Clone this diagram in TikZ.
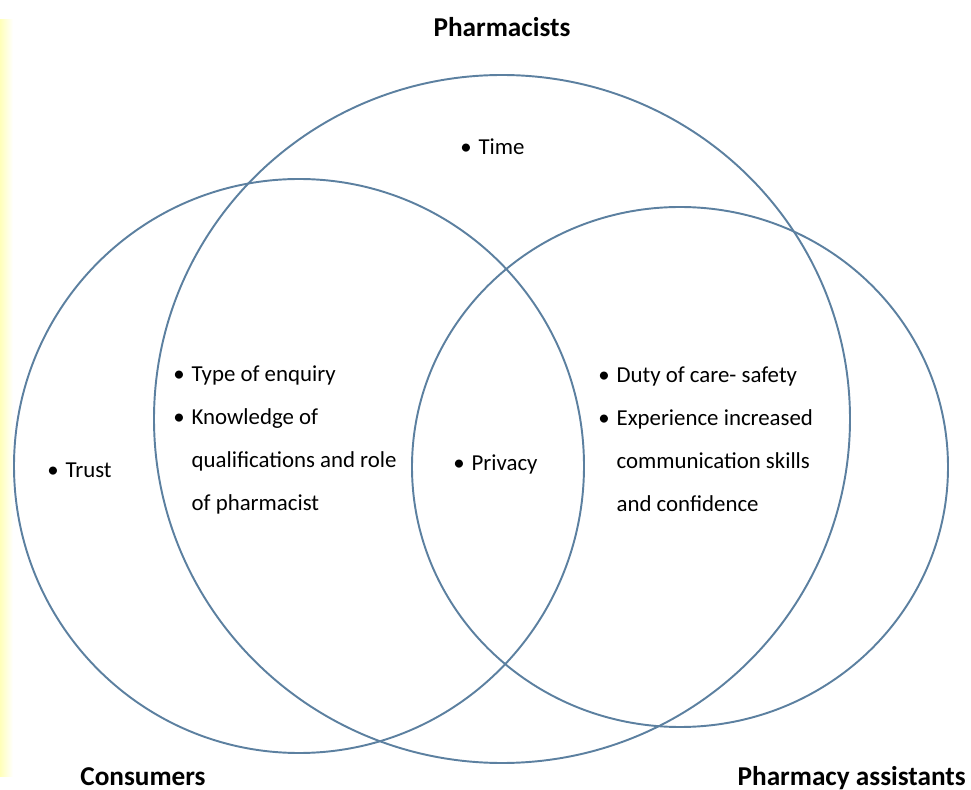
\documentclass[tikz,border=0pt]{standalone}
\usepackage{fontspec}
\setmainfont{Carlito}
\usepackage{xcolor}
\definecolor{color1}{RGB}{92, 128, 160}
\definecolor{color2}{RGB}{255, 255, 185}
\usepackage{tikz}
\newcommand{\bul}{\makebox[0.8em][l]{\textbullet}}
\newcommand{\ind}{\hspace*{0.8em}}

\begin{document}
\begin{tikzpicture}[x=0.02cm, y=-0.02cm,
	lst/.style={font=\fontsize{13}{24.4}\selectfont, align=left, anchor=west, inner sep=0pt},
	ttl/.style={font=\fontsize{15.5}{18}\selectfont\bfseries, inner sep=0pt}]
	\useasboundingbox (0,0) rectangle (971,790);
	\shade[left color=color2, right color=white] (0,20) rectangle (13,776);
	% the three sets
	\draw[line width=1.1pt, color1] (502,419) ellipse [x radius=348, y radius=344];
	\draw[line width=1.1pt, color1] (299,466) ellipse [x radius=285, y radius=287];
	\draw[line width=1.1pt, color1] (680,467) ellipse [x radius=268, y radius=260];
	\node[ttl, anchor=base] (pharm) at (502,37) {Pharmacists};
	\node[ttl, anchor=base west] (cons) at (80,785) {Consumers};
	\node[ttl, anchor=base east] (assist) at (966,785) {Pharmacy assistants};
	% what each set says
	\node[lst] (time) at (460,147) {\bul Time};
	\node[lst] (trust) at (47,470) {\bul Trust};
	\node[lst] (enquiry) at (173,440) {\bul Type of enquiry\\ \bul Knowledge of\\ \ind qualifications and role\\ \ind of pharmacist};
	\node[lst] (privacy) at (453,464) {\bul Privacy};
	\node[lst] (duty) at (598,439) {\bul Duty of care- safety\\ \bul Experience increased\\ \ind communication skills\\ \ind and confidence};
\end{tikzpicture}
\end{document}
